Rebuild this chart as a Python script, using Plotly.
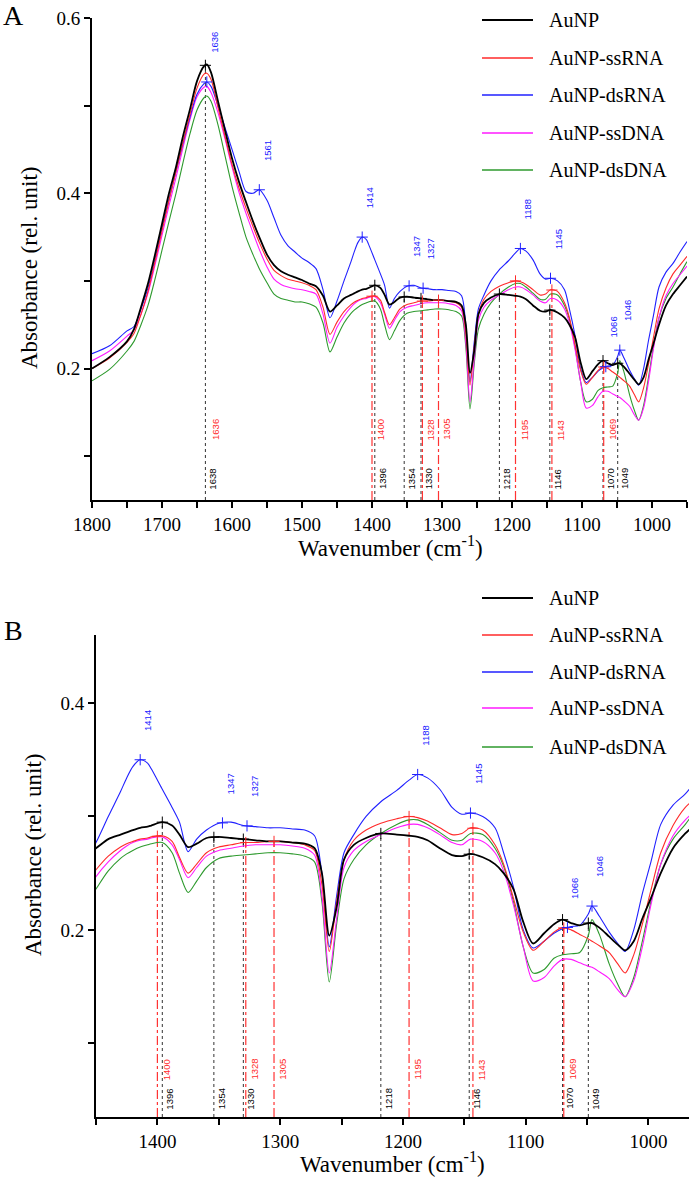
import numpy as np
import plotly.graph_objects as go

W, H = 689, 1181

# ---------------- data ----------------
wavenumber = [1800, 1775, 1750, 1740, 1730, 1720, 1710, 1700, 1690, 1680, 1670, 1660, 1650, 1640, 1636, 1630,
              1620, 1610, 1600, 1590, 1580, 1570, 1561, 1550, 1540, 1530, 1520, 1510, 1500, 1490, 1480, 1470,
              1460, 1450, 1440, 1430, 1425, 1420, 1414, 1408, 1405, 1396, 1388, 1382, 1375, 1368, 1360, 1350, 1340, 1330,
              1320, 1310, 1300, 1290, 1280, 1272, 1266, 1260, 1254, 1248, 1240, 1230, 1218, 1205, 1195, 1188,
              1180, 1170, 1160, 1152, 1145, 1135, 1125, 1118, 1110, 1102, 1094, 1085, 1077, 1070, 1063, 1056,
              1049, 1046, 1040, 1032, 1025, 1019, 1012, 1005, 998, 990, 980, 970, 960, 950]

aunp = [0.200, 0.213, 0.231, 0.245, 0.270, 0.297, 0.330, 0.365, 0.400, 0.430, 0.465, 0.496, 0.528, 0.545, 0.547, 0.538,
        0.505, 0.472, 0.440, 0.413, 0.390, 0.368, 0.350, 0.330, 0.318, 0.311, 0.307, 0.304, 0.301, 0.297, 0.294, 0.283,
        0.265, 0.272, 0.280, 0.284, 0.286, 0.288, 0.290, 0.291, 0.292, 0.295, 0.292, 0.284, 0.273, 0.276, 0.281, 0.282, 0.281, 0.280,
        0.279, 0.278, 0.278, 0.277, 0.276, 0.272, 0.250, 0.195, 0.220, 0.262, 0.275, 0.281, 0.285, 0.284, 0.283, 0.282,
        0.279, 0.272, 0.266, 0.265, 0.267, 0.264, 0.258, 0.250, 0.236, 0.207, 0.188, 0.197, 0.205, 0.209, 0.206, 0.204,
        0.206, 0.206, 0.202, 0.194, 0.187, 0.182, 0.190, 0.210, 0.228, 0.250, 0.272, 0.285, 0.295, 0.305]

aunp_ssrna = [0.200, 0.212, 0.230, 0.240, 0.262, 0.288, 0.322, 0.357, 0.392, 0.425, 0.458, 0.490, 0.520, 0.536, 0.537, 0.530,
              0.498, 0.465, 0.433, 0.406, 0.383, 0.362, 0.344, 0.325, 0.312, 0.306, 0.302, 0.300, 0.298, 0.295, 0.290, 0.270,
              0.239, 0.253, 0.265, 0.273, 0.276, 0.278, 0.280, 0.281, 0.282, 0.283, 0.278, 0.264, 0.250, 0.258, 0.268, 0.273, 0.275, 0.277,
              0.277, 0.278, 0.278, 0.277, 0.275, 0.270, 0.240, 0.181, 0.225, 0.262, 0.279, 0.288, 0.294, 0.298, 0.300, 0.299,
              0.296, 0.290, 0.284, 0.285, 0.290, 0.288, 0.275, 0.258, 0.228, 0.198, 0.182, 0.190, 0.198, 0.202, 0.200, 0.196,
              0.192, 0.190, 0.186, 0.180, 0.170, 0.162, 0.178, 0.205, 0.235, 0.268, 0.292, 0.308, 0.318, 0.328]

aunp_dsrna = [0.217, 0.226, 0.243, 0.248, 0.268, 0.292, 0.325, 0.360, 0.393, 0.425, 0.457, 0.487, 0.513, 0.525, 0.527, 0.522,
              0.500, 0.475, 0.450, 0.425, 0.402, 0.400, 0.404, 0.392, 0.372, 0.352, 0.340, 0.333, 0.326, 0.321, 0.314, 0.290,
              0.258, 0.277, 0.300, 0.322, 0.334, 0.344, 0.350, 0.347, 0.342, 0.324, 0.308, 0.295, 0.269, 0.280, 0.288, 0.294, 0.295, 0.292,
              0.291, 0.290, 0.290, 0.289, 0.288, 0.283, 0.250, 0.185, 0.230, 0.268, 0.284, 0.300, 0.313, 0.323, 0.332, 0.337,
              0.334, 0.324, 0.308, 0.302, 0.303, 0.300, 0.290, 0.268, 0.238, 0.200, 0.184, 0.190, 0.197, 0.201, 0.203, 0.204,
              0.214, 0.221, 0.212, 0.198, 0.188, 0.181, 0.200, 0.232, 0.260, 0.293, 0.310, 0.320, 0.333, 0.345]

aunp_ssdna = [0.209, 0.220, 0.237, 0.244, 0.262, 0.286, 0.318, 0.352, 0.386, 0.418, 0.452, 0.484, 0.510, 0.521, 0.522, 0.515,
              0.492, 0.462, 0.430, 0.401, 0.377, 0.355, 0.336, 0.316, 0.302, 0.296, 0.293, 0.291, 0.290, 0.288, 0.285, 0.262,
              0.229, 0.247, 0.260, 0.270, 0.274, 0.277, 0.279, 0.280, 0.281, 0.282, 0.275, 0.262, 0.246, 0.255, 0.265, 0.270, 0.272, 0.274,
              0.275, 0.275, 0.275, 0.274, 0.272, 0.266, 0.230, 0.162, 0.210, 0.255, 0.270, 0.278, 0.284, 0.290, 0.293, 0.293,
              0.290, 0.284, 0.277, 0.275, 0.280, 0.278, 0.268, 0.252, 0.222, 0.185, 0.155, 0.158, 0.168, 0.174, 0.174, 0.171,
              0.168, 0.167, 0.163, 0.157, 0.147, 0.141, 0.155, 0.185, 0.222, 0.258, 0.283, 0.297, 0.307, 0.317]

aunp_dsdna = [0.186, 0.199, 0.220, 0.231, 0.250, 0.272, 0.302, 0.335, 0.368, 0.400, 0.435, 0.468, 0.495, 0.509, 0.511, 0.505,
              0.478, 0.443, 0.408, 0.378, 0.350, 0.330, 0.314, 0.298, 0.285, 0.280, 0.278, 0.276, 0.276, 0.274, 0.270, 0.252,
              0.219, 0.236, 0.252, 0.263, 0.267, 0.270, 0.273, 0.275, 0.276, 0.277, 0.268, 0.250, 0.233, 0.243, 0.255, 0.263, 0.265, 0.266,
              0.267, 0.268, 0.268, 0.267, 0.265, 0.260, 0.225, 0.154, 0.205, 0.245, 0.262, 0.275, 0.285, 0.293, 0.297, 0.297,
              0.293, 0.286, 0.279, 0.279, 0.285, 0.284, 0.272, 0.256, 0.225, 0.185, 0.162, 0.165, 0.175, 0.178, 0.179, 0.180,
              0.195, 0.209, 0.196, 0.170, 0.152, 0.141, 0.158, 0.190, 0.225, 0.258, 0.280, 0.293, 0.308, 0.322]

series_names = ["AuNP", "AuNP-ssRNA", "AuNP-dsRNA", "AuNP-ssDNA", "AuNP-dsDNA"]

black_peaks_a = [1638, 1396, 1354, 1330, 1218, 1146, 1070, 1049]
red_peaks_a = [1400, 1328, 1305, 1195, 1143, 1069]
red_labels_a = [1636, 1400, 1328, 1305, 1195, 1143, 1069]
blue_peaks_a = [1636, 1561, 1414, 1347, 1327, 1188, 1145, 1066, 1046]

black_peaks_b = [1396, 1354, 1330, 1218, 1146, 1070, 1049]
red_peaks_b = [1400, 1328, 1305, 1195, 1143, 1069]
blue_peaks_b = [1414, 1347, 1327, 1188, 1145, 1066, 1046]

x_minor_a = list(range(1800, 949, -50))
x_major_a = list(range(1800, 999, -100))
x_minor_b = list(range(1450, 999, -50))
x_major_b = list(range(1400, 999, -100))
y_major_a = [0.2, 0.4, 0.6]
y_minor_a = [0.1, 0.3, 0.5]
y_major_b = [0.2, 0.4]
y_minor_b = [0.1, 0.3]

# ---------------- style ----------------
colors = {"AuNP": "#000000", "AuNP-ssRNA": "#ff2a2a", "AuNP-dsRNA": "#2020ff",
          "AuNP-ssDNA": "#ff1aff", "AuNP-dsDNA": "#2e9a2e"}
widths = {"AuNP": 1.8, "AuNP-ssRNA": 1.1, "AuNP-dsRNA": 1.1, "AuNP-ssDNA": 1.1, "AuNP-dsDNA": 1.1}
values = {"AuNP": aunp, "AuNP-ssRNA": aunp_ssrna, "AuNP-dsRNA": aunp_dsrna,
          "AuNP-ssDNA": aunp_ssdna, "AuNP-dsDNA": aunp_dsdna}
draw_order = ["AuNP-dsDNA", "AuNP-ssDNA", "AuNP-dsRNA", "AuNP-ssRNA", "AuNP"]

SERIF = "Liberation Serif"
SANS = "Liberation Sans"

wn_arr = np.array(wavenumber)[::-1]


def at(name, x):
    return float(np.interp(x, wn_arr, np.array(values[name])[::-1]))


fig = go.Figure()

panels = [
    dict(xa="x", ya="y", xr=[1800, 950], yr=[0.05, 0.6],
         black=black_peaks_a, red=red_peaks_a, redlab=red_labels_a, blue=blue_peaks_a,
         black_y=0.06, red_y=0.116),
    dict(xa="x2", ya="y2", xr=[1450, 967], yr=[0.035, 0.46],
         black=black_peaks_b, red=red_peaks_b, redlab=red_peaks_b, blue=blue_peaks_b,
         black_y=0.040, red_y=0.066),
]

shapes = []
annotations = []

for p in panels:
    for name in draw_order:
        fig.add_trace(go.Scatter(x=wavenumber, y=values[name], mode="lines", name=name,
                                 xaxis=p["xa"], yaxis=p["ya"], showlegend=False,
                                 line=dict(color=colors[name], width=widths[name], shape="spline", smoothing=0.8),
                                 hoverinfo="skip"))
    # vertical marker lines
    for wn in p["black"]:
        shapes.append(dict(type="line", xref=p["xa"], yref=p["ya"], x0=wn, x1=wn,
                           y0=p["yr"][0], y1=at("AuNP", wn),
                           line=dict(color="#333333", width=1, dash="dot"), layer="below"))
    for wn in p["red"]:
        shapes.append(dict(type="line", xref=p["xa"], yref=p["ya"], x0=wn, x1=wn,
                           y0=p["yr"][0], y1=at("AuNP-ssRNA", wn),
                           line=dict(color="#ff3333", width=1.2, dash="dashdot"), layer="below"))
    # + markers
    for name, pk in [("AuNP", p["black"]), ("AuNP-ssRNA", p["red"]), ("AuNP-dsRNA", p["blue"])]:
        fig.add_trace(go.Scatter(x=pk, y=[at(name, w) for w in pk], mode="markers",
                                 xaxis=p["xa"], yaxis=p["ya"], showlegend=False, hoverinfo="skip",
                                 marker=dict(symbol="cross-thin", size=8,
                                             line=dict(color=colors[name], width=1))))
    # labels
    for wn in p["black"]:
        annotations.append(dict(x=wn, y=p["black_y"], xref=p["xa"], yref=p["ya"], text=str(wn),
                                textangle=-90, showarrow=False, xanchor="left", yanchor="bottom",
                                xshift=0, font=dict(family=SANS, size=9.5, color="#000000")))
    for wn in p["redlab"]:
        annotations.append(dict(x=wn, y=p["red_y"], xref=p["xa"], yref=p["ya"], text=str(wn),
                                textangle=-90, showarrow=False, xanchor="left", yanchor="bottom",
                                xshift=1, font=dict(family=SANS, size=9.5, color="#ff2a2a")))
    for wn in p["blue"]:
        annotations.append(dict(x=wn, y=at("AuNP-dsRNA", wn), xref=p["xa"], yref=p["ya"], text=str(wn),
                                textangle=-90, showarrow=False, xanchor="left", yanchor="bottom",
                                xshift=0, yshift=27, font=dict(family=SANS, size=9.5, color="#2020ff")))


def px_x(v):
    return v / W


def px_y(v):
    return 1 - v / H


# legends (manual)
for rows in ([20, 58, 95, 133, 170], [598, 635, 672, 708, 747]):
    for name, ry in zip(series_names, rows):
        shapes.append(dict(type="line", xref="paper", yref="paper",
                           x0=px_x(482), x1=px_x(533), y0=px_y(ry), y1=px_y(ry),
                           line=dict(color=colors[name], width=2.2 if name == "AuNP" else 1.6)))
        annotations.append(dict(x=px_x(547), y=px_y(ry), xref="paper", yref="paper", text=name,
                                showarrow=False, xanchor="left", yanchor="middle",
                                font=dict(family=SERIF, size=20, color="#000000")))

# panel letters and axis titles
for txt, cx, cy in [("A", 13, 16), ("B", 13, 630)]:
    annotations.append(dict(x=px_x(cx), y=px_y(cy), xref="paper", yref="paper", text=txt, showarrow=False,
                            xanchor="center", yanchor="middle", font=dict(family=SERIF, size=28, color="#000")))
for cx, cy in [(390, 547), (392, 1162)]:
    annotations.append(dict(x=px_x(cx), y=px_y(cy), xref="paper", yref="paper",
                            text="Wavenumber (cm<sup>-1</sup>)", showarrow=False,
                            xanchor="center", yanchor="middle", font=dict(family=SERIF, size=23, color="#000")))
for cx, cy in [(29, 268), (33, 855)]:
    annotations.append(dict(x=px_x(cx), y=px_y(cy), xref="paper", yref="paper",
                            text="Absorbance (rel. unit)", textangle=-90, showarrow=False,
                            xanchor="center", yanchor="middle", font=dict(family=SERIF, size=23, color="#000")))

axis_common = dict(showline=True, linecolor="#000", linewidth=2, ticks="outside", ticklen=6,
                   tickwidth=1.5, tickcolor="#000", showgrid=False, zeroline=False, automargin=False,
                   tickfont=dict(family=SERIF, size=19, color="#000"))


def minor(vals):
    return dict(tickvals=vals, ticks="outside", ticklen=6, tickwidth=1.5, tickcolor="#000", showgrid=False)


fig.update_layout(
    template="none",
    font=dict(family=SERIF, color="#000"),
    width=W, height=H, autosize=False,
    margin=dict(l=0, r=0, t=0, b=0, pad=0, autoexpand=False),
    paper_bgcolor="white", plot_bgcolor="white", showlegend=False,
    xaxis=dict(domain=[px_x(92), px_x(687)], range=panels[0]["xr"], anchor="y",
               tickvals=x_major_a, minor=minor(x_minor_a), **axis_common),
    yaxis=dict(domain=[px_y(500), px_y(18)], range=panels[0]["yr"], anchor="x",
               tickvals=y_major_a, minor=minor(y_minor_a), **axis_common),
    xaxis2=dict(domain=[px_x(96), px_x(689)], range=panels[1]["xr"], anchor="y2",
                tickvals=x_major_b, minor=minor(x_minor_b), **axis_common),
    yaxis2=dict(domain=[px_y(1117), px_y(635)], range=panels[1]["yr"], anchor="x2",
                tickvals=y_major_b, minor=minor(y_minor_b), **axis_common),
    shapes=shapes, annotations=annotations,
)

fig.write_html("out.html", config={"displayModeBar": False},
               post_script="document.body.style.margin='0';document.body.style.overflow='hidden';")
